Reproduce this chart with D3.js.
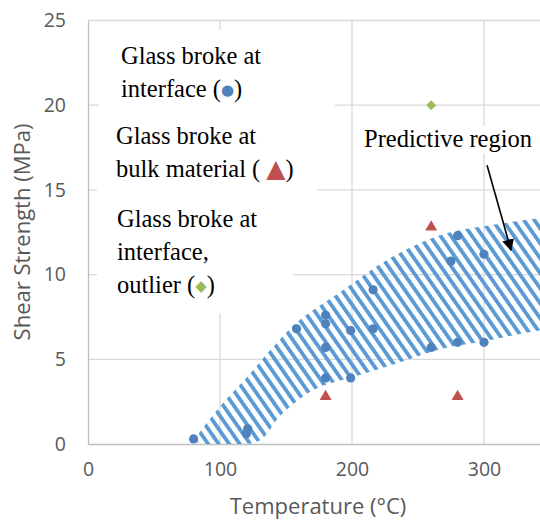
<html>
<head>
<style>
  body { margin: 0; background: #fff; }
  .tick text { font-family: "Open Sans", sans-serif; fill: #595959; }
  .note { font-family: "Liberation Serif", "Times New Roman", serif; font-size: 24.5px; fill: #000; }
</style>
<script src="https://d3js.org/d3.v7.min.js"></script>
</head>
<body>
<svg width="540" height="521"></svg>
<script>
// data
var xTicks = [0, 100, 200, 300];
var yTicks = [0, 5, 10, 15, 20, 25];

var interfaceT = [80, 120, 121, 158, 180, 180, 180, 180, 199, 199, 216, 216, 260, 275, 280, 280, 300, 300];
var interfaceS = [0.3, 0.6, 0.9, 6.8, 7.6, 7.1, 5.7, 3.9, 6.7, 3.9, 9.1, 6.8, 5.7, 10.8, 12.3, 6.0, 11.2, 6.0];
var bulkT = [180, 260, 280];
var bulkS = [2.8, 12.8, 2.8];
var outlierT = [260];
var outlierS = [20];

// predictive region outline
var upperT = [81, 84.8, 102.3, 120.5, 140.2, 158.3, 190.9, 228.8, 266.7, 304.5, 342.4, 388];
var upperS = [0.24, 0.71, 2.42, 3.95, 5.72, 7.19, 8.96, 10.97, 12.32, 12.91, 13.33, 13.68];
var lowerT = [88.6, 110, 130, 146, 170.5, 206, 236.4, 266.7, 300, 342.4, 388];
var lowerS = [0.0, 0.0, 0.2, 1.7, 3.18, 4.07, 4.83, 5.6, 6.07, 6.72, 7.19];

var svg = d3.select("svg");

var x = d3.scaleLinear().domain([0, 400]).range([88, 616]);
var y = d3.scaleLinear().domain([0, 25]).range([444, 20.5]);

var defs = svg.append("defs");
var pat = defs.append("pattern")
    .attr("id", "hatch")
    .attr("patternUnits", "userSpaceOnUse")
    .attr("width", 8.6).attr("height", 10)
    .attr("patternTransform", "rotate(-35)");
pat.append("rect").attr("x", 0).attr("y", 0).attr("width", 3.8).attr("height", 10).attr("fill", "#5B9BD5");

defs.append("clipPath").attr("id", "plot")
  .append("rect").attr("x", 88).attr("y", 20).attr("width", 460).attr("height", 424);

// grid lines
var grid = svg.append("g");
grid.selectAll(".hg").data(yTicks.slice(1)).enter().append("line")
    .attr("x1", 88).attr("x2", 540)
    .attr("y1", function(d){ return y(d); }).attr("y2", function(d){ return y(d); })
    .attr("stroke", "#d9d9d9").attr("stroke-width", 1.3);
grid.selectAll(".vg").data(xTicks.slice(1)).enter().append("line")
    .attr("x1", function(d){ return x(d); }).attr("x2", function(d){ return x(d); })
    .attr("y1", y(25)).attr("y2", y(0))
    .attr("stroke", "#d9d9d9").attr("stroke-width", 1.3);

// axes
var xAxis = svg.append("g").attr("transform", "translate(0," + y(0) + ")")
    .call(d3.axisBottom(x).tickValues(xTicks).tickSize(0).tickPadding(18));
xAxis.select(".domain").attr("stroke", "#bfbfbf").attr("stroke-width", 1.3);
xAxis.selectAll("text").style("font-size", "19.5px");

var yAxis = svg.append("g").attr("transform", "translate(" + x(0) + ",0)")
    .call(d3.axisLeft(y).tickValues(yTicks).tickSize(0).tickPadding(22));
yAxis.select(".domain").attr("stroke", "#bfbfbf").attr("stroke-width", 1.3);
yAxis.selectAll("text").style("font-size", "19.5px");

svg.append("text")
    .attr("x", 318).attr("y", 514)
    .attr("text-anchor", "middle")
    .style("font-family", "Open Sans, sans-serif").style("font-size", "22px").style("fill", "#595959")
    .text("Temperature (°C)");

svg.append("text")
    .attr("transform", "translate(30,232) rotate(-90)")
    .attr("text-anchor", "middle")
    .style("font-family", "Open Sans, sans-serif").style("font-size", "22px").style("fill", "#595959")
    .text("Shear Strength (MPa)");

// hatched predictive region
var outline = [];
for (var i = 0; i < upperT.length; i++) outline.push([upperT[i], upperS[i]]);
for (var j = lowerT.length - 1; j >= 0; j--) outline.push([lowerT[j], lowerS[j]]);

svg.append("path")
    .datum(outline)
    .attr("clip-path", "url(#plot)")
    .attr("fill", "url(#hatch)")
    .attr("d", d3.line()
        .x(function(d){ return x(d[0]); })
        .y(function(d){ return y(d[1]); })
        .curve(d3.curveCatmullRomClosed));

// white text boxes (they hide the grid)
var boxes = [[99, 30, 236, 90], [97, 118, 220, 84], [97, 200, 196, 113], [360, 126, 180, 27]];
svg.selectAll(".box").data(boxes).enter().append("rect")
    .attr("x", function(d){ return d[0]; }).attr("y", function(d){ return d[1]; })
    .attr("width", function(d){ return d[2]; }).attr("height", function(d){ return d[3]; })
    .attr("fill", "#fff");

// points
var pts = svg.append("g");
pts.selectAll(".c").data(interfaceT).enter().append("circle")
    .attr("cx", function(d){ return x(d); })
    .attr("cy", function(d, i){ return y(interfaceS[i]); })
    .attr("r", 4.6)
    .attr("fill", "#4F81BD");
pts.selectAll(".t").data(bulkT).enter().append("path")
    .attr("transform", function(d, i){ return "translate(" + x(d) + "," + y(bulkS[i]) + ")"; })
    .attr("d", d3.symbol().type(d3.symbolTriangle).size(62))
    .attr("fill", "#C0504D");
pts.selectAll(".d").data(outlierT).enter().append("path")
    .attr("transform", function(d, i){ return "translate(" + x(d) + "," + y(outlierS[i]) + ") rotate(45)"; })
    .attr("d", d3.symbol().type(d3.symbolSquare).size(50))
    .attr("fill", "#9BBB59");

// notes
function note(px, py, parts) {
    var t = svg.append("text").attr("class", "note").attr("x", px).attr("y", py);
    parts.forEach(function(p){
        var s = t.append("tspan").text(p[0]);
        if (p[1]) s.style("fill", p[1]).style("font-family", "DejaVu Sans").style("font-size", p[2]).attr("dy", p[3]);
        else if (p[3]) s.attr("dy", p[3]);
    });
}
note(121, 64, [["Glass broke at"]]);
note(121, 97, [["interface ("], ["●", "#4F81BD", "15px", -2], [")", null, null, 2]]);
note(116, 144, [["Glass broke at"]]);
note(116, 177, [["bulk material ( "], ["▲", "#C0504D", "25px", 0], [")"]]);
note(117, 227, [["Glass broke at"]]);
note(117, 260, [["interface,"]]);
note(117, 293, [["outlier ("], ["◆", "#9BBB59", "15px", -2.5], [")", null, null, 2.5]]);
note(364, 147, [["Predictive region"]]);

// arrow
var arrowFrom = [302.3, 16.45];
var arrowTo = [320.5, 11.44];
defs.append("marker").attr("id", "head")
    .attr("viewBox", "0 0 10 10").attr("refX", 9).attr("refY", 5)
    .attr("markerWidth", 12).attr("markerHeight", 12).attr("markerUnits", "userSpaceOnUse")
    .attr("orient", "auto")
  .append("path").attr("d", "M0,0L10,5L0,10z").attr("fill", "#000");
svg.append("line")
    .attr("x1", x(arrowFrom[0])).attr("y1", y(arrowFrom[1]))
    .attr("x2", x(arrowTo[0])).attr("y2", y(arrowTo[1]))
    .attr("stroke", "#000").attr("stroke-width", 1.6)
    .attr("marker-end", "url(#head)");
</script>
</body>
</html>
